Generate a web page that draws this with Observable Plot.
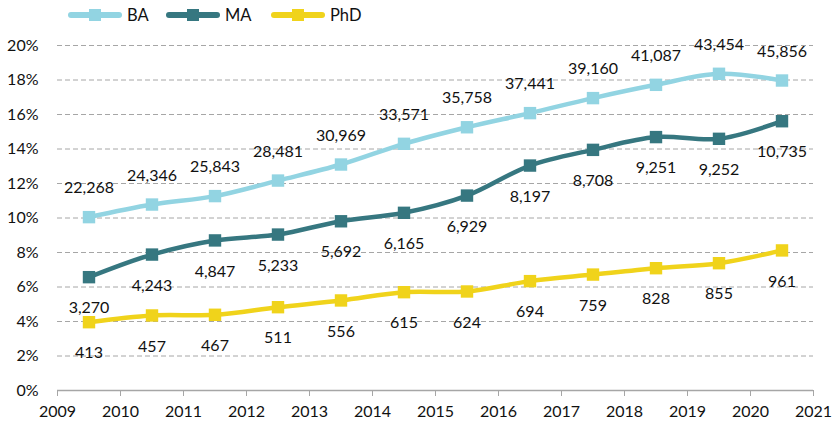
<!DOCTYPE html>
<html>
<head>
<meta charset="utf-8">
<script src="https://cdn.jsdelivr.net/npm/d3@7"></script>
<script src="https://cdn.jsdelivr.net/npm/@observablehq/plot@0.6"></script>
<style>
  body { margin: 0; background: #fff; font-family: Lato, "Open Sans", sans-serif; }
  #legend { height: 34px; position: relative; font-size: 16.5px; color: #111; }
  .item { position: absolute; top: 5px; display: flex; align-items: center; }
  .item svg { margin-right: 4px; }
  #chart svg { display: block; }
</style>
</head>
<body>
<div id="legend"></div>
<div id="chart"></div>
<script>
const years = [2009, 2010, 2011, 2012, 2013, 2014, 2015, 2016, 2017, 2018, 2019, 2020];
const seriesNames = ["BA", "MA", "PhD"];
const colors = ["#92D4E2", "#367780", "#F0D31B"];
const baPct  = [10.05, 10.78, 11.27, 12.17, 13.10, 14.30, 15.26, 16.08, 16.95, 17.72, 18.36, 17.97];
const maPct  = [6.57, 7.88, 8.70, 9.04, 9.81, 10.30, 11.30, 13.04, 13.95, 14.69, 14.59, 15.61];
const phdPct = [3.96, 4.35, 4.39, 4.83, 5.22, 5.70, 5.74, 6.34, 6.72, 7.09, 7.38, 8.12];
const baCount  = [22268, 24346, 25843, 28481, 30969, 33571, 35758, 37441, 39160, 41087, 43454, 45856];
const maCount  = [3270, 4243, 4847, 5233, 5692, 6165, 6929, 8197, 8708, 9251, 9252, 10735];
const phdCount = [413, 457, 467, 511, 556, 615, 624, 694, 759, 828, 855, 961];
const xTicks = [2009, 2010, 2011, 2012, 2013, 2014, 2015, 2016, 2017, 2018, 2019, 2020, 2021];
const yTicks = [0, 0.02, 0.04, 0.06, 0.08, 0.10, 0.12, 0.14, 0.16, 0.18, 0.20];

const pcts = [baPct, maPct, phdPct];
const counts = [baCount, maCount, phdCount];
const data = [];
seriesNames.forEach((s, i) => years.forEach((y, j) => data.push({
  series: s, x: y + 0.5, v: pcts[i][j] / 100, n: counts[i][j]
})));

// legend
const legend = document.getElementById("legend");
const lx = [67, 165, 270];
seriesNames.forEach((s, i) => {
  const d = document.createElement("div");
  d.className = "item";
  d.style.left = lx[i] + "px";
  d.innerHTML = `<svg width="56" height="14"><line x1="4" y1="7" x2="52" y2="7" stroke="${colors[i]}" stroke-width="6" stroke-linecap="round"/><rect x="22" y="1" width="12" height="12" fill="${colors[i]}"/></svg><span>${s}</span>`;
  legend.appendChild(d);
});

const fmt = d3.format(",");
const marks = [
  Plot.gridY(yTicks.filter(t => t > 0), {stroke: "#a6a6a6", strokeOpacity: 1, strokeDasharray: "5,3", strokeWidth: 1}),
  Plot.ruleY([0], {stroke: "#a6a6a6", strokeWidth: 1.3}),
  Plot.axisX({ticks: xTicks, tickFormat: d => String(d), tickSize: 6, tickPadding: 9, stroke: "#a6a6a6", fill: "#111", fontSize: 16, label: null}),
  Plot.axisY({ticks: yTicks, tickFormat: d3.format(".0%"), tickSize: 0, tickPadding: 19, fill: "#111", fontSize: 16, label: null})
];
seriesNames.forEach((s, i) => {
  const sub = data.filter(d => d.series === s);
  marks.push(Plot.line(sub, {x: "x", y: "v", stroke: colors[i], strokeWidth: 4.5, curve: "catmull-rom"}));
  marks.push(Plot.dot(sub, {x: "x", y: "v", symbol: "square", r: 7, fill: colors[i], stroke: "none"}));
});
seriesNames.forEach((s, i) => {
  const sub = data.filter(d => d.series === s);
  marks.push(Plot.text(sub, {x: "x", y: "v", text: d => fmt(d.n), dy: i === 0 ? -29 : 31, fill: "#111", fontSize: 16}));
});

const chart = Plot.plot({
  width: 835,
  height: 387,
  marginTop: 11,
  marginBottom: 31,
  marginLeft: 57,
  marginRight: 22,
  style: {fontFamily: "Lato, 'Open Sans', sans-serif", background: "#fff", color: "#111"},
  x: {domain: [2009, 2021]},
  y: {domain: [0, 0.2]},
  marks
});
document.getElementById("chart").appendChild(chart);
</script>
</body>
</html>
